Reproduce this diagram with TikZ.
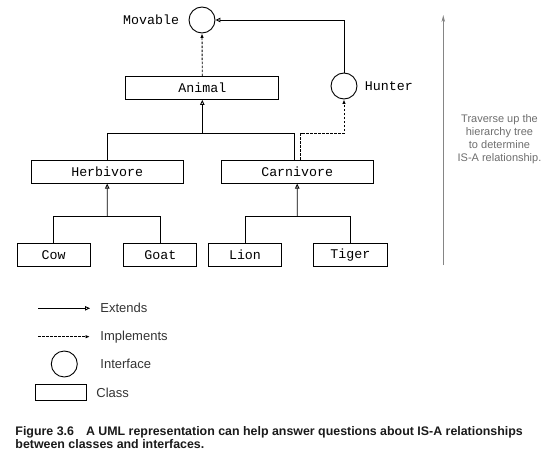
\documentclass[tikz,border=0pt]{standalone}
\usepackage{fontspec}
\setmainfont{Liberation Sans}
\newfontfamily\codefont{Liberation Mono}
\usetikzlibrary{arrows.meta,positioning}
\definecolor{notegray}{HTML}{6E6E6E}
\definecolor{arrowgray}{HTML}{858585}
\definecolor{legendink}{HTML}{333333}
\definecolor{captionink}{HTML}{1A1A1A}

\begin{document}
\begin{tikzpicture}[x=1pt,y=-1pt,line width=0.9pt,
    cls/.style={rectangle,draw,minimum height=23pt,inner sep=0pt,font=\codefont\fontsize{13.3}{15}\selectfont},
    iface/.style={circle,draw,minimum size=26pt,inner sep=0pt},
    codelbl/.style={inner sep=0pt,font=\codefont\fontsize{13.3}{15}\selectfont},
    legendlbl/.style={inner sep=0pt,anchor=west,text=legendink,font=\fontsize{13}{15}\selectfont},
    extends/.style={-{Triangle[open,length=5pt,width=4.5pt]}},
    implements/.style={-{Latex[length=4.5pt,width=3.5pt]},dash pattern=on 2.5pt off 1.5pt}]
  \useasboundingbox (0,0) rectangle (547,460);
  % interfaces and classes
  \node[iface] (movable) at (202,20) {};
  \node[codelbl,left=9pt of movable] (movablelbl) {Movable};
  \node[cls,minimum width=153pt] (animal) at (202.3,88) {Animal};
  \node[iface] (hunter) at (344,86) {};
  \node[codelbl,right=7pt of hunter] (hunterlbl) {Hunter};
  \node[cls,minimum width=152pt] (herbivore) at (107.2,171.7) {Herbivore};
  \node[cls,minimum width=152pt] (carnivore) at (297.2,171.7) {Carnivore};
  \node[cls,minimum width=73pt] (cow) at (53.7,255) {Cow};
  \node[cls,minimum width=73pt] (goat) at (160.3,255) {Goat};
  \node[cls,minimum width=73pt] (lion) at (245,255) {Lion};
  \node[cls,minimum width=74pt] (tiger) at (350.3,255) {Tiger};

  % extends / implements
  \coordinate (animalbus) at (202.3,133.3);
  \coordinate (hunterbend) at (344,133.3);
  \coordinate (herbbus) at (107.3,216.7);
  \coordinate (carnbus) at (297.3,216.7);
  \draw (herbivore.north) |- (animalbus) -| ([xshift=-3pt]carnivore.north);
  \draw[extends] (animalbus) -- (animal.south);
  \draw[implements] (animal.north) -- (movable.south);
  \draw[implements] ([xshift=3.5pt]carnivore.north) |- (hunterbend) -- (hunter.south);
  \draw[extends] (hunter.north) |- (movable.east);
  \draw (cow.north) |- (herbbus) -| (goat.north);
  \draw[extends] (herbbus) -- (herbivore.south);
  \draw (lion.north) |- (carnbus) -| (tiger.north);
  \draw[extends] (carnbus) -- (carnivore.south);

  % side note
  \coordinate (tracebot) at (443.3,265);
  \coordinate (tracetop) at (443.3,15);
  \draw[arrowgray,line width=0.8pt,-{Stealth[length=7pt,width=3.5pt]}] (tracebot) -- (tracetop);
  \node[align=center,text=notegray,inner sep=0pt,font=\fontsize{11}{13}\selectfont] (note) at (499.5,139)
    {Traverse up the\\hierarchy tree\\to determine\\IS-A relationship.};

  % legend
  \coordinate (extA) at (38,308.3);
  \coordinate (extB) at (90,308.3);
  \coordinate (impA) at (38,336.7);
  \coordinate (impB) at (90,336.7);
  \draw[extends] (extA) -- (extB);
  \node[legendlbl] (extlbl) at (100,308.3) {Extends};
  \draw[implements] (impA) -- (impB);
  \node[legendlbl] (implbl) at (100,336.7) {Implements};
  \node[iface] (legiface) at (64.3,364) {};
  \node[legendlbl] (ifacelbl) at (100,364) {Interface};
  \node[rectangle,draw,minimum width=51pt,minimum height=16pt,inner sep=0pt] (legclass) at (61.3,392.5) {};
  \node[legendlbl] (classlbl) at (96,392.5) {Class};

  % caption
  \node[anchor=west,align=left,inner sep=0pt,text=captionink,font=\bfseries\fontsize{12.4}{13}\selectfont] (caption) at (15,438)
    {Figure 3.6\hspace{12pt}A UML representation can help answer questions about IS-A relationships\\between classes and interfaces.};
\end{tikzpicture}
\end{document}
